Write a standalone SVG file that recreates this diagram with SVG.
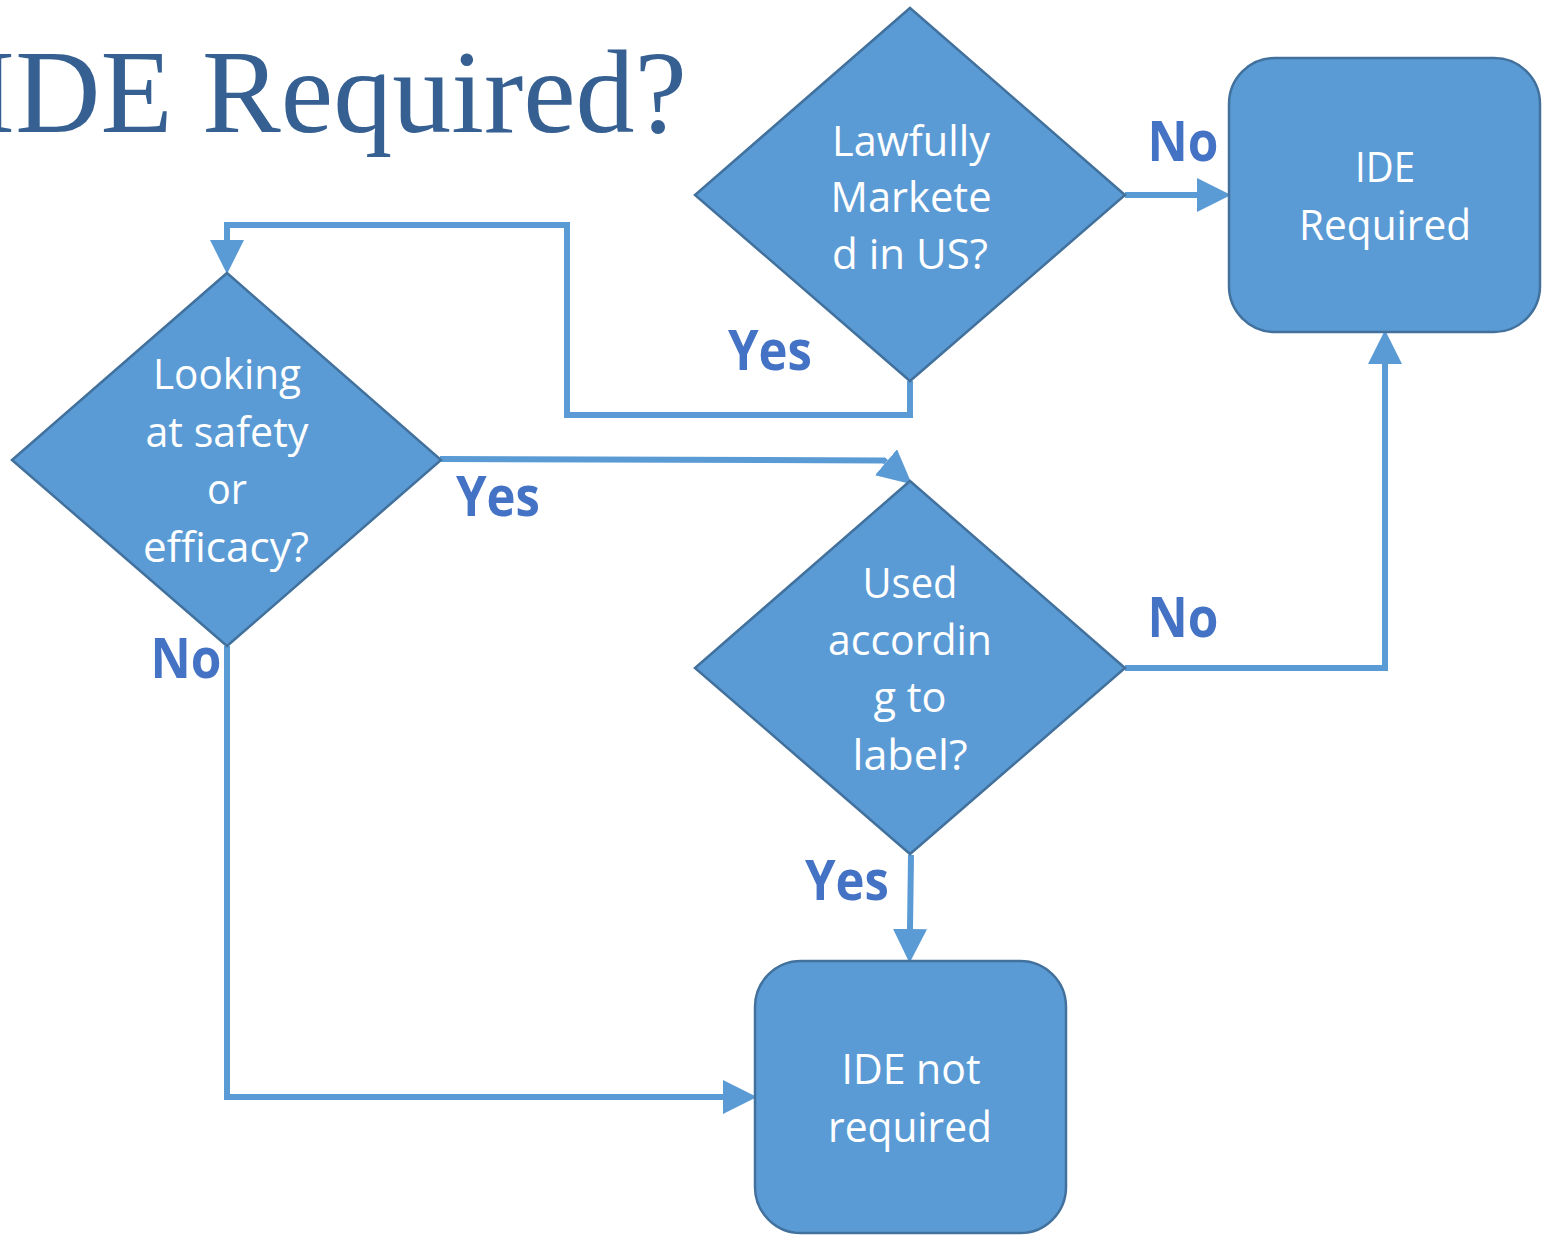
<svg xmlns="http://www.w3.org/2000/svg" width="1542" height="1235" viewBox="0 0 1542 1235">
<style>
.shape{fill:#5B9BD5;stroke:#41719C;stroke-width:2.5}
.t{font-family:"Open Sans","Liberation Sans",sans-serif;font-size:42px;fill:#FFFFFF;text-anchor:middle}
.lbl{font-family:"Open Sans","Liberation Sans",sans-serif;font-size:56px;font-weight:bold;fill:#4472C4;text-anchor:middle}
.conn{fill:none;stroke:#5B9BD5;stroke-width:6;stroke-linejoin:miter}
.title{font-family:"Liberation Serif","Times New Roman",serif;font-size:118px;fill:#366092;text-anchor:end}
</style>
<defs>
<marker id="arrow" markerUnits="userSpaceOnUse" markerWidth="34" markerHeight="34" viewBox="0 0 32 32" refX="0" refY="16" orient="auto">
<path d="M0,0 L32,16 L0,32 Z" fill="#5B9BD5"/>
</marker>
</defs>
<rect width="1542" height="1235" fill="#FFFFFF"/>
<text class="title" x="687" y="132">IDE Required?</text>

<g id="connectors">
<path class="conn" d="M1125,195 L1197,195" marker-end="url(#arrow)"/>
<path class="conn" d="M910,381 L910,415 L567,415 L567,225 L227,225 L227,240" marker-end="url(#arrow)"/>
<path class="conn" d="M440,459 L884,460.5 L886,462.2" marker-end="url(#arrow)"/>
<path class="conn" d="M227,646 L227,1097 L723,1097" marker-end="url(#arrow)"/>
<path class="conn" d="M1125,668 L1385,668 L1385,364" marker-end="url(#arrow)"/>
<path class="conn" d="M911,855 L910,929" marker-end="url(#arrow)"/>
</g>

<g id="lawfully">
<polygon class="shape" points="910,8 1125,195 910,381 695,195"/>
<text class="t" x="911" y="156" textLength="158" lengthAdjust="spacingAndGlyphs">Lawfully</text>
<text class="t" x="911" y="212" textLength="161" lengthAdjust="spacingAndGlyphs">Markete</text>
<text class="t" x="910" y="269" textLength="156" lengthAdjust="spacingAndGlyphs">d in US?</text>
</g>

<g id="ide-required">
<rect class="shape" x="1229" y="58" width="311" height="274" rx="46" ry="46"/>
<text class="t" x="1385" y="182" textLength="60" lengthAdjust="spacingAndGlyphs">IDE</text>
<text class="t" x="1385" y="240" textLength="172" lengthAdjust="spacingAndGlyphs">Required</text>
</g>

<g id="safety">
<polygon class="shape" points="227,273 441,460 227,646 12,460"/>
<text class="t" x="227" y="389" textLength="148" lengthAdjust="spacingAndGlyphs">Looking</text>
<text class="t" x="227" y="447" textLength="163" lengthAdjust="spacingAndGlyphs">at safety</text>
<text class="t" x="227" y="504" textLength="40" lengthAdjust="spacingAndGlyphs">or</text>
<text class="t" x="226" y="562" textLength="166" lengthAdjust="spacingAndGlyphs">efficacy?</text>
</g>

<g id="label-use">
<polygon class="shape" points="910,481 1125,668 910,854 695,668"/>
<text class="t" x="910" y="598" textLength="95" lengthAdjust="spacingAndGlyphs">Used</text>
<text class="t" x="910" y="655" textLength="164" lengthAdjust="spacingAndGlyphs">accordin</text>
<text class="t" x="910" y="712" textLength="73" lengthAdjust="spacingAndGlyphs">g to</text>
<text class="t" x="910" y="770" textLength="115" lengthAdjust="spacingAndGlyphs">label?</text>
</g>

<g id="ide-not-required">
<rect class="shape" x="755" y="961" width="311" height="272" rx="46" ry="46"/>
<text class="t" x="911" y="1084" textLength="139" lengthAdjust="spacingAndGlyphs">IDE not</text>
<text class="t" x="910" y="1142" textLength="164" lengthAdjust="spacingAndGlyphs">required</text>
</g>

<g id="labels">
<text class="lbl" x="1183" y="161" textLength="71" lengthAdjust="spacingAndGlyphs">No</text>
<text class="lbl" x="770" y="370" textLength="84" lengthAdjust="spacingAndGlyphs">Yes</text>
<text class="lbl" x="498" y="516" textLength="84" lengthAdjust="spacingAndGlyphs">Yes</text>
<text class="lbl" x="186" y="678" textLength="71" lengthAdjust="spacingAndGlyphs">No</text>
<text class="lbl" x="1183" y="637" textLength="71" lengthAdjust="spacingAndGlyphs">No</text>
<text class="lbl" x="847" y="900" textLength="84" lengthAdjust="spacingAndGlyphs">Yes</text>
</g>
</svg>
